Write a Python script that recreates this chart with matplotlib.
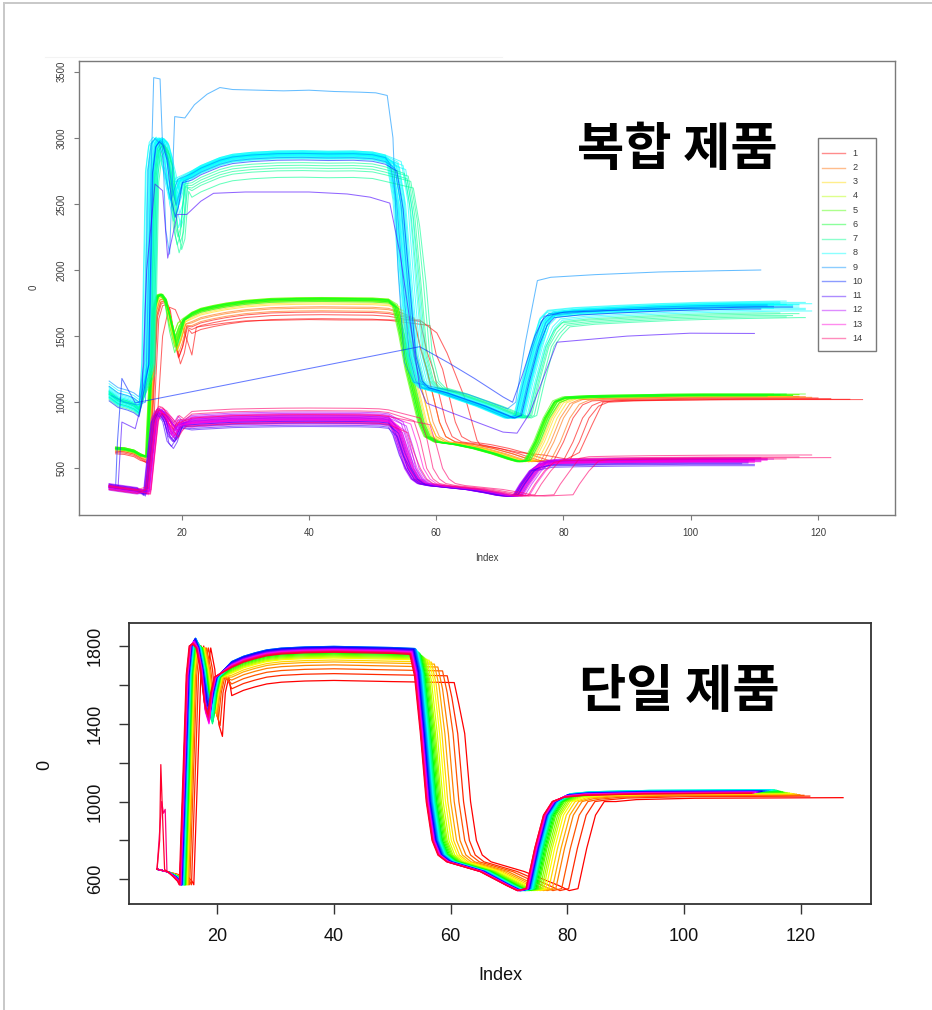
import colorsys
import numpy as np
import matplotlib
matplotlib.use("Agg")
import matplotlib.pyplot as plt
from matplotlib.patches import Rectangle
from matplotlib.lines import Line2D

# ---------------------------------------------------------------- data
# Upper panel: "복합 제품" (composite products), 14 products, replicate traces.
legend_labels = [str(i) for i in range(1, 15)]

# Shape of the cyan (high) bundle; codes: 0 start, 1 rise/peak, 7 dip after peak,
# 2 plateau, 3 drop top, 4 drop/trough, 5 recovery, 6 final plateau
cy_tx = [8.6, 10.0, 11.5, 12.5, 13.3,
         14.6, 15.2, 15.7, 16.3, 16.9, 17.5, 18.2, 18.8, 19.3, 19.9,
         21.6, 23, 24.5, 26, 28, 31, 35, 39, 43, 47, 50, 52,
         53, 54,
         55, 56, 57, 58, 61, 64, 67, 69.5, 71.5,
         72.8, 74, 75.5,
         76.8, 78, 82, 88, 95, 102, 108, 114, 120]
cy_ty = [1060, 1010, 990, 970, 940,
         1300, 2750, 2950, 2990, 2960, 2850, 2650, 2520, 2600, 2680,
         2720, 2760, 2790, 2820, 2845, 2860, 2870, 2872, 2868, 2870, 2862, 2840,
         2790, 2500,
         1900, 1350, 1160, 1110, 1070, 1020, 970, 920, 880,
         900, 1150, 1420,
         1600, 1660, 1680, 1695, 1710, 1720, 1725, 1730, 1735]
cy_code = [0] * 5 + [1] * 6 + [7] * 3 + [1] + [2] * 12 + [3] * 2 + [4] * 9 + [5] * 3 + [6] * 9

cy_color = [8, 8, 8, 8, 8, 8, 8, 8, 8, 8, 8, 8, 8, 8, 8, 8, 8, 8, 8, 8, 8, 8,
            7, 7, 7, 7, 7, 9, 9, 10]
cy_rise = [-0.8, -0.4, -0.2, 0, 0.1, 0.2, 0.4, 0.5, 0.6, 0.8, -0.6, -0.1, 0.1, 0.3, 0.9,
           1.0, -0.3, 0.2, -0.9, 0.4, 0.7, 1.1, 0.5, 0.8, 1.0, 1.2, 0.6, 0.3, -0.5, 0.2]
cy_start = [40, 20, 60, 0, -20, 30, 10, -10, 50, 20, -30, 0, 80, -20, 10,
            -10, 30, 5, -25, 15, 0, -30, -40, -20, 0, 20, 10, 60, 100, -50]
cy_dip = [0, 50, -80, 30, -120, 60, 0, -50, 80, -30, 20, -150, 40, 0, -100,
          60, -60, 10, 90, -40, -200, -180, -300, -350, -250, -280, -220, -20, 0, -100]
cy_level = [30, 20, 10, 0, -10, 15, 5, -5, 25, 10, -15, 0, 20, -20, 10,
            -10, 30, 5, -25, 15, 0, -30, -60, -80, -120, -170, -100, -20, 10, -40]
cy_drop = [-0.8, -0.5, -0.3, 0, 0.2, 0.4, 0.6, 0.8, 1.0, -0.6, -0.2, 0.1, 0.3, 0.5, 0.7,
           1.2, 1.5, -0.4, 0, 0.9, 1.8, 2.2, 2.0, 2.6, 3.0, 3.4, 2.4, 0.5, -0.2, 0.8]
cy_back = [-0.6, -0.4, -0.2, 0, 0.2, 0.4, 0.5, 0.7, 0.9, -0.5, -0.1, 0.1, 0.3, 0.6, 0.8,
           1.0, 1.2, -0.3, 0, 0.8, 1.5, 1.8, 1.7, 2.2, 2.6, 3.0, 2.0, 0.4, -0.3, 0.6]
cy_final = [20, 30, 10, 0, -10, 25, 15, -5, 20, 35, 5, 10, -20, 15, 0,
            -15, 25, 10, -10, 5, -30, -40, -60, -70, -80, -90, -50, 0, 10, -20]
cy_end = [113, 114, 115, 116, 117, 118, 112, 113, 114, 115, 116, 117, 118, 119, 112,
          113, 114, 115, 116, 117, 118, 119, 117, 116, 115, 118, 114, 113, 112, 111]

# Shape of the green/yellow (middle) bundle
gr_tx = [9.6, 11.0, 12.5, 13.5,
         14.5, 15.0, 15.6, 16.2, 16.8, 17.4, 18.2, 19.0, 19.6, 20.3,
         21.6, 23, 25, 27, 30, 34, 38, 42, 46, 50, 52.5,
         53.5, 54.5,
         55.5, 56.5, 57.5, 58.5, 60, 63, 66, 69, 71.5, 73,
         74, 75.5, 77,
         78.5, 80, 84, 90, 96, 102, 108, 114, 120, 128]
gr_ty = [650, 645, 628, 600,
         585, 1100, 1700, 1800, 1810, 1770, 1600, 1440, 1520, 1620,
         1660, 1690, 1712, 1730, 1750, 1765, 1770, 1772, 1770, 1768, 1760,
         1720, 1500,
         1250, 1050, 850, 740, 700, 680, 650, 610, 570, 550,
         560, 700, 880,
         1000, 1030, 1040, 1045, 1050, 1052, 1052, 1052, 1052, 1052]
gr_code = [0] * 4 + [1] * 6 + [7] * 3 + [1] + [2] * 11 + [3] * 2 + [4] * 10 + [5] * 3 + [6] * 10

gr_color = [1, 1, 1, 2, 2, 2, 3, 3, 3, 3, 4, 4, 4, 4, 4, 4, 5, 5, 5, 5, 5, 5, 6, 6, 6, 6]
gr_rise = [0.8, 0.6, 0.5, 0.5, 0.3, 0.4, 0.2, 0.3, 0.1, 0.0, 0.0, -0.1, 0.1, 0.2, -0.2,
           0.0, -0.1, 0.0, 0.1, -0.2, 0.2, 0.0, -0.1, 0.1, 0.0, 0.2]
gr_start = [-30, -20, -40, -10, -20, 0, 0, 10, -10, 5, 0, 5, -5, 10, 0,
            -5, 5, 0, 10, -10, 0, 5, 0, 10, -5, 0]
gr_dip = [-80, -40, -60, -30, -20, 0, 20, -40, 40, 0, 60, -20, 30, -50, 80,
          10, -30, 50, 0, 70, -10, 30, -60, 20, 40, -20]
gr_level = [-140, -110, -90, -80, -60, -50, -30, -20, -10, 0, 0, 10, 5, 15, -5,
            20, 10, 15, 0, 20, 10, 5, -10, 0, 15, 10]
gr_drop = [5.5, 4.0, 3.0, 3.0, 2.0, 1.5, 1.5, 1.0, 0.5, 0.8, 0.2, 0.0, 0.3, -0.3, 0.5,
           0.0, -0.2, 0.2, 0.0, 0.4, -0.4, 0.1, 0.6, 0.3, 0.0, -0.2]
gr_back = [7.0, 6.0, 4.5, 4.0, 3.0, 2.5, 2.0, 1.5, 1.0, 1.2, 0.5, 0.2, 0.4, 0.0, 0.8,
           0.3, 0.0, 0.3, 0.1, 0.6, -0.2, 0.2, 0.8, 0.5, 0.2, 0.0]
gr_final = [-30, -25, -20, -15, -10, -10, -5, -5, 0, 0, 0, 5, 0, 5, -5,
            10, 0, 5, 0, 5, 10, 0, -5, 5, 10, 0]
gr_end = [125, 122, 120, 119, 118, 117, 116, 115, 114, 113, 115, 114, 116, 117, 112,
          113, 114, 115, 116, 117, 118, 113, 112, 114, 115, 116]

# Shape of the violet/magenta (low) bundle
mg_tx = [8.6, 10.0, 11.5, 13.0,
         14.3, 14.9, 15.5, 16.1, 16.7, 17.3, 18.0, 18.7, 19.3, 20.0,
         21.6, 23, 25, 28, 32, 36, 40, 44, 48, 51, 52.5,
         53.5, 54.5,
         55.5, 56.5, 57.5, 59, 62, 65, 68, 70, 71.5,
         72.5, 73.5, 75,
         76.5, 78, 82, 88, 94, 100, 106, 112, 118, 124]
mg_ty = [360, 350, 340, 330,
         320, 600, 870, 930, 920, 880, 800, 760, 810, 835,
         850, 855, 860, 868, 872, 875, 876, 875, 874, 870, 862,
         800, 650,
         500, 420, 385, 370, 355, 340, 315, 295, 290,
         300, 380, 480,
         535, 548, 552, 556, 558, 560, 560, 561, 562, 562]
mg_code = [0] * 4 + [1] * 6 + [7] * 3 + [1] + [2] * 11 + [3] * 2 + [4] * 9 + [5] * 3 + [6] * 10

mg_color = [12, 13, 12, 13, 12, 13, 12, 13, 12, 13, 12, 13, 12, 13, 12, 13,
            12, 13, 12, 13, 11, 11, 11, 11, 12, 13, 12, 13, 14, 14, 14, 14]
mg_rise = [0.0, 0.2, -0.2, 0.4, 0.1, 0.6, -0.1, 0.3, 0.5, 0.0, 0.2, 0.8, -0.3, 0.1, 0.4, 0.7,
           0.0, 0.3, 0.2, 0.5, -0.3, -0.1, 0.2, 0.0, 0.6, 0.9, 0.1, 0.4, 0.3, 0.5, 0.0, 0.8]
mg_start = [0, 10, -10, 5, -5, 15, 20, -15, 0, 5, -20, 10, 25, -5, 0, -10,
            15, 5, -15, 0, 10, -5, 0, 20, -25, 5, 0, -10, 10, -20, 5, 0]
mg_dip = [0, 20, -30, 40, -50, 10, 30, -20, 50, -40, 0, 20, -10, 60, -60, 30,
          10, -30, 40, -20, -70, -40, -50, -80, 20, 40, 60, 0, 50, 30, 20, -10]
mg_level = [0, 10, -10, 20, -20, 5, -5, 15, -15, 30, -30, 0, 10, -10, 25, -25,
            5, -5, 40, -40, -50, -35, -20, -60, 20, 35, 50, -10, 80, 60, 30, -30]
mg_drop = [0.0, 0.3, -0.3, 0.6, 0.2, 0.9, -0.5, 0.4, 0.8, 0.1, 1.2, -0.2, 0.5, 1.5, 0.0, 0.7,
           -0.4, 0.3, 1.0, 0.2, -0.3, 0.6, 0.0, 0.4, 1.8, 2.5, 1.3, 0.9, 4.0, 3.0, 5.5, 2.0]
mg_back = [0.0, 0.2, -0.3, 0.5, 0.1, 0.8, -0.4, 0.3, 0.6, 0.0, 1.0, -0.2, 0.4, 1.2, -0.1, 0.5,
           -0.3, 0.2, 0.8, 0.1, -0.2, 0.4, 0.0, 0.3, 1.5, 2.2, 1.0, 0.7, 6.0, 3.0, 9.0, 2.0]
mg_final = [0, 5, -5, 10, -10, 8, -8, 3, -3, 12, -12, 0, 6, -6, 15, -15,
            2, -2, 10, -10, -30, -20, -25, -40, 10, 15, 20, -5, 40, 25, 20, 10]
mg_end = [110, 109, 111, 110, 108, 112, 109, 110, 111, 110, 109, 112, 110, 108, 111, 110,
          109, 110, 112, 111, 110, 109, 108, 110, 113, 112, 111, 110, 119, 117, 122, 115]

# Individual traces that do not follow a bundle
lb_x = [9.0, 11.0, 13.0, 14.3, 15.0, 15.6, 16.6, 17.5, 18.1, 18.9, 20.5, 22.0, 24.0, 26.0,
        28.0, 32, 36, 40, 44, 48, 50.5, 52.3, 53.2, 54.0, 55.0, 56.5, 60, 65, 69, 71.2,
        72.5, 74, 75.9, 78, 85, 95, 105, 111]
lb_y = [1050, 1000, 980, 1000, 2400, 3455, 3445, 2300, 2120, 3160, 3150, 3250, 3330, 3380,
        3365, 3360, 3355, 3360, 3350, 3345, 3340, 3320, 3000, 2000, 1300, 1150, 1110, 1060, 990, 950,
        1000, 1450, 1920, 1945, 1965, 1985, 1995, 2000]

sb_x = [9.6, 9.9, 10.6, 12.7, 57.4, 60, 62, 66, 70.5, 72, 73.5, 75.5, 77, 80, 90, 100, 110, 116]
sb_y = [340, 700, 1180, 995, 1420, 1350, 1296, 1180, 1040, 1000, 1200, 1500, 1650, 1680,
        1700, 1710, 1720, 1720]

pu_x = [9.7, 10.0, 10.6, 12.7, 13.7, 14.5, 15.8, 17.0, 17.8, 19.3, 20.8, 23, 25, 30, 40,
        46, 49.6, 52.7, 54.3, 57.4, 58.5, 62.6, 70.5, 72.7, 74.7, 79.0, 90, 99.9, 110]
pu_y = [350, 360, 850, 800, 990, 2000, 2650, 2600, 2090, 2420, 2420, 2520, 2580, 2590, 2590,
        2575, 2551, 2506, 2128, 1114, 993, 917, 774, 766, 917, 1454, 1500, 1522, 1520]

rd_x = [12.5, 13.5, 14.5, 15.5, 16.2, 17.0, 18.0, 19.0, 20.3, 21.6, 22.3, 24, 27, 30, 35,
        40, 45, 50, 55, 57.4, 60.1, 61.7, 64.8, 66.4, 66.9, 70, 73, 77, 80.5, 82.5,
        84.5, 86.2, 88, 95, 105, 115, 127]
rd_y = [620, 600, 590, 620, 900, 1500, 1720, 1700, 1550, 1357, 1568, 1580, 1600, 1615, 1620,
        1625, 1622, 1622, 1622, 1622, 1524, 1372, 993, 714, 676, 650, 620, 600, 570, 620,
        830, 1000, 1010, 1015, 1018, 1020, 1020]

# Lower panel: "단일 제품" (single product), one trace per run, ordered red -> pink
sp_rise = [16.0, 15.6, 15.3, 15.1, 15.0, 14.9, 14.8, 14.7, 14.7, 14.6, 14.6, 14.5, 14.5, 14.4,
           14.4, 14.3, 14.3, 14.2, 14.2, 14.1, 14.1, 14.0, 14.0, 13.9, 13.9, 13.9, 13.8, 13.8,
           13.8, 13.7, 13.7, 13.7, 13.6, 13.6, 13.6, 13.5]
sp_dip = [1335, 1390, 1420, 1440, 1450, 1460, 1470, 1480, 1470, 1460, 1450, 1440, 1430, 1420,
          1410, 1400, 1420, 1440, 1460, 1480, 1500, 1490, 1480, 1470, 1460, 1450, 1440, 1430,
          1420, 1410, 1400, 1410, 1420, 1430, 1440, 1450]
sp_level = [1620, 1655, 1680, 1700, 1715, 1725, 1735, 1740, 1745, 1750, 1755, 1760, 1765, 1770,
            1772, 1775, 1778, 1780, 1785, 1790, 1792, 1795, 1795, 1792, 1790, 1788, 1785, 1782,
            1780, 1778, 1776, 1775, 1772, 1770, 1768, 1765]
sp_drop = [60.6, 59.4, 58.6, 57.8, 57.2, 56.7, 56.3, 55.9, 55.6, 55.4, 55.2, 55.0, 54.8, 54.7,
           54.6, 54.5, 54.4, 54.3, 54.2, 54.1, 54.0, 53.9, 53.8, 53.7, 53.6, 53.5, 53.5, 53.4,
           53.4, 53.3, 53.3, 53.2, 53.2, 53.1, 53.1, 53.0]
sp_back = [81.8, 80.2, 79.0, 78.0, 77.4, 76.8, 76.3, 75.9, 75.6, 75.3, 75.0, 74.8, 74.6, 74.4,
           74.3, 74.2, 74.1, 74.0, 73.9, 73.8, 73.7, 73.6, 73.5, 73.5, 73.4, 73.4, 73.3, 73.3,
           73.2, 73.2, 73.1, 73.1, 73.0, 73.0, 72.9, 72.9]
sp_final = [1020, 1028, 1032, 1035, 1038, 1040, 1042, 1044, 1046, 1047, 1048, 1050, 1052, 1054,
            1056, 1058, 1060, 1060, 1060, 1058, 1056, 1055, 1054, 1053, 1052, 1051, 1050, 1050,
            1049, 1048, 1047, 1046, 1045, 1044, 1043, 1042]
sp_end = [127.2, 121.5, 120.5, 119.8, 119.2, 118.8, 118.3, 118.0, 117.6, 117.2, 117.0, 116.8,
          116.5, 116.2, 116.0, 115.8, 115.5, 115.2, 115.0, 114.7, 114.4, 114.0, 113.7, 113.4,
          113.2, 113.0, 112.8, 112.6, 112.5, 112.3, 112.2, 112.0, 111.9, 111.8, 111.6, 111.5]
# early spikes on two runs
spike_runs = [33, 35]
spike_x = [[10.5, 10.8, 11.1, 11.4], [10.15, 10.35, 10.7, 11.0]]
spike_y = [[1000, 940, 960, 640], [800, 1190, 880, 650]]

# ---------------------------------------------------------------- helpers
W, H = 932, 1010
fig = plt.figure(figsize=(W / 100, H / 100), dpi=100)


def fx(px):
    return px / W


def fy(py):
    return 1 - py / H


def rainbow(n, alpha=1.0):
    return [colorsys.hsv_to_rgb(i / n, 1, 1) + (alpha,) for i in range(n)]


pal14 = rainbow(14)


def bundle_trace(tx, ty, code, rise, start, dip, level, drop, back, final, end):
    xs = {0: 0, 1: rise, 7: rise, 2: 0, 3: drop, 4: drop, 5: back, 6: back}
    ys = {0: start, 1: 0.5 * level, 7: 0.5 * level + dip, 2: level, 3: level,
          4: 0, 5: 0, 6: final}
    x = np.array(tx, float) + np.array([xs[c] for c in code])
    y = np.array(ty, float) + np.array([ys[c] for c in code])
    keep = x < end
    x, y = x[keep], y[keep]
    return np.append(x, end), np.append(y, y[-1])


def single_trace(i):
    s, dip, P = sp_rise[i], sp_dip[i], sp_level[i]
    d, r, Q, E = sp_drop[i], sp_back[i], sp_final[i], sp_end[i]
    peak = min(P + 45, 1840)
    pts = [(9.7, 652)]
    if i in spike_runs:
        k = spike_runs.index(i)
        pts += list(zip(spike_x[k], spike_y[k]))
    pts += [(11.6, 638), (s - 1.0, 612), (s - 0.3, 590), (s, 572),
            (s + 0.6, 1100), (s + 1.2, 1650), (s + 1.7, 1800), (s + 2.3, peak),
            (s + 2.9, 1790), (s + 3.6, 1680), (s + 4.3, dip + 60), (s + 4.9, dip),
            (s + 5.4, 1560), (s + 6.0, 1640),
            (22.5, P - 75), (24.5, P - 48), (26.5, P - 30), (28.5, P - 15), (31, P - 6),
            (35, P), (40, P + 3), (45, P), (50, P - 3), (d, P - 8),
            (d + 0.8, P - 120), (d + 1.8, 1350), (d + 2.8, 1000), (d + 3.8, 800),
            (d + 4.8, 725), (d + 6.3, 690), (d + 12, 640), (r - 3.3, 568), (r - 1.5, 542),
            (r, 552), (r + 1.5, 760), (r + 3, 930), (r + 4.5, 1000), (r + 6.5, Q - 20),
            (r + 10, Q - 10), (r + 20, Q - 3), (E, Q)]
    x, y = zip(*pts)
    return np.array(x), np.array(y)


TEXT = ["Liberation Sans", "DejaVu Sans"]
KR = ["Noto Sans CJK KR", "DejaVu Sans"]

# ---------------------------------------------------------------- frame of the page
fig.add_artist(Line2D([fx(4), fx(4)], [fy(3), fy(1010)], color="#c8c8c8", lw=1.4))
fig.add_artist(Line2D([fx(4), fx(932)], [fy(3), fy(3)], color="#c8c8c8", lw=1.4))
fig.add_artist(Line2D([fx(45), fx(502)], [fy(57), fy(57)], color="#f3f3f3", lw=0.8))

# ---------------------------------------------------------------- upper panel
ax1 = fig.add_axes([fx(79), fy(515), fx(895) - fx(79), fy(60.7) - fy(515)])
ax1.set_xlim(3.86, 132.1)
ax1.set_ylim(147, 3583)
lw1, a1 = 0.75, 0.6


def draw_bundle(tx, ty, code, colors, rise, start, dip, level, drop, back, final, end):
    for j in range(len(colors)):
        x, y = bundle_trace(tx, ty, code, rise[j], start[j], dip[j], level[j], drop[j],
                            back[j], final[j], end[j])
        c = pal14[colors[j] - 1][:3]
        ax1.plot(x, y, color=c, alpha=a1, lw=lw1, solid_joinstyle="round")


ax1.plot(rd_x, rd_y, color=pal14[0][:3], alpha=a1, lw=lw1)
draw_bundle(gr_tx, gr_ty, gr_code, gr_color, gr_rise, gr_start, gr_dip, gr_level, gr_drop,
            gr_back, gr_final, gr_end)
draw_bundle(cy_tx, cy_ty, cy_code, cy_color, cy_rise, cy_start, cy_dip, cy_level, cy_drop,
            cy_back, cy_final, cy_end)
ax1.plot(lb_x, lb_y, color=pal14[8][:3], alpha=a1, lw=lw1)
ax1.plot(sb_x, sb_y, color=pal14[9][:3], alpha=a1, lw=lw1)
ax1.plot(pu_x, pu_y, color=pal14[10][:3], alpha=a1, lw=lw1)
draw_bundle(mg_tx, mg_ty, mg_code, mg_color, mg_rise, mg_start, mg_dip, mg_level, mg_drop,
            mg_back, mg_final, mg_end)

ax1.set_xticks([20, 40, 60, 80, 100, 120])
ax1.set_yticks([500, 1000, 1500, 2000, 2500, 3000, 3500])
for sp in ax1.spines.values():
    sp.set_color("#7a7a7a")
    sp.set_linewidth(1.0)
ax1.tick_params(length=3.6, width=0.8, color="#7a7a7a", labelsize=6.9,
                labelcolor="#3c3c3c")
ax1.tick_params(axis="x", pad=5.5)
ax1.tick_params(axis="y", pad=5.5)
for t in ax1.get_xticklabels() + ax1.get_yticklabels():
    t.set_family(TEXT)
for t in ax1.get_yticklabels():
    t.set_rotation(90)
    t.set_va("center")

fig.text(fx(487), fy(558), "Index", ha="center", va="center", fontsize=6.9,
         color="#3c3c3c", family=TEXT)
fig.text(fx(34), fy(287), "0", ha="center", va="center", fontsize=6.9,
         color="#3c3c3c", rotation=90, family=TEXT)

# legend
fig.add_artist(Rectangle((fx(818.3), fy(351)), fx(875.7) - fx(818.3), fy(138.3) - fy(351),
                         facecolor="white", edgecolor="#7a7a7a", lw=1.0))
leg_cols = rainbow(14, 0.45)
for k, lab in enumerate(legend_labels):
    yy = 153.3 + k * 14.23
    fig.add_artist(Line2D([fx(822), fx(845)], [fy(yy), fy(yy)], color=leg_cols[k], lw=1.0))
    fig.text(fx(852.5), fy(yy), lab, ha="left", va="center", fontsize=6.6,
             color="#3c3c3c", family=TEXT)

fig.text(fx(677.5), fy(150), "복합 제품", ha="center", va="center", fontsize=37,
         fontweight="bold", family=KR)

# ---------------------------------------------------------------- lower panel
ax2 = fig.add_axes([fx(129), fy(904), fx(870.5) - fx(129), fy(622.7) - fy(904)])
ax2.set_xlim(4.9, 131.9)
ax2.set_ylim(473, 1920)
n_runs = len(sp_level)
sp_cols = rainbow(n_runs)
for i in range(n_runs):
    x, y = single_trace(i)
    ax2.plot(x, y, color=sp_cols[i], lw=0.9, solid_joinstyle="round")

ax2.set_xticks([20, 40, 60, 80, 100, 120])
ax2.set_yticks([600, 800, 1000, 1200, 1400, 1600, 1800])
ax2.set_yticklabels(["600", "", "1000", "", "1400", "", "1800"])
for sp in ax2.spines.values():
    sp.set_color("#333333")
    sp.set_linewidth(1.3)
ax2.tick_params(length=7.0, width=1.0, color="#333333", labelsize=13, labelcolor="#111111")
ax2.tick_params(axis="x", pad=10)
ax2.tick_params(axis="y", pad=11)
for t in ax2.get_xticklabels() + ax2.get_yticklabels():
    t.set_family(TEXT)
for t in ax2.get_yticklabels():
    t.set_rotation(90)
    t.set_va("center")

fig.text(fx(500), fy(976), "Index", ha="center", va="center", fontsize=13,
         color="#111111", family=TEXT)
fig.text(fx(45), fy(765), "0", ha="center", va="center", fontsize=13,
         color="#111111", rotation=90, family=TEXT)

fig.text(fx(679), fy(692), "단일 제품", ha="center", va="center", fontsize=37,
         fontweight="bold", family=KR)

fig.savefig("out.png", dpi=100, facecolor="white")
